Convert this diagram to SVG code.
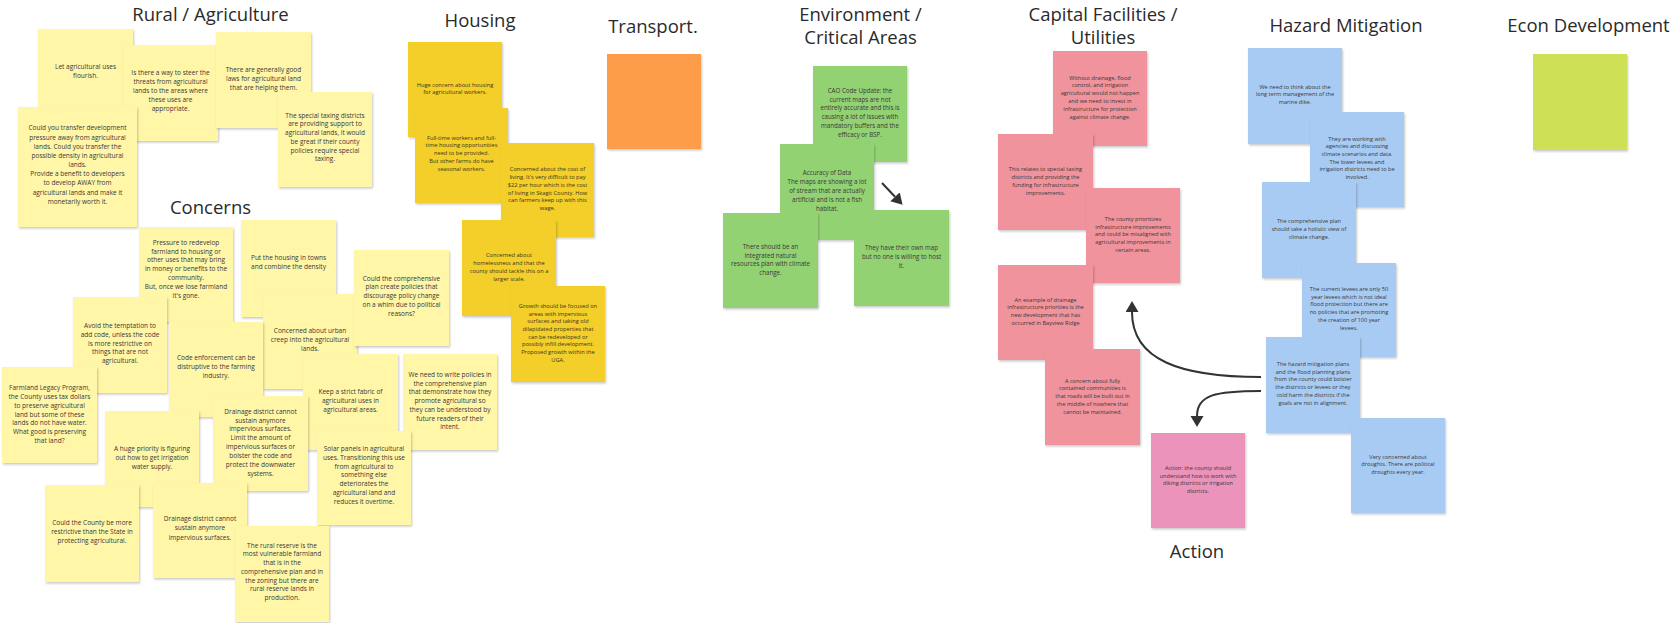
<svg xmlns="http://www.w3.org/2000/svg" width="1674" height="623" viewBox="0 0 1674 623">
<defs>
<filter id="sh" x="-10%" y="-10%" width="130%" height="130%"><feDropShadow dx="1" dy="1.5" stdDeviation="1" flood-color="#000" flood-opacity="0.22"/></filter>
<marker id="ah" markerUnits="userSpaceOnUse" markerWidth="12" markerHeight="14" refX="0" refY="6.5" orient="auto"><path d="M0,0 L11,6.5 L0,13 z" fill="#333"/></marker>
</defs>
<style>
.n{filter:url(#sh)}
.ly{fill:#fff6a8}.hy{fill:#f4cf2b}.or{fill:#fe9d48}.gr{fill:#93d273}.pk{fill:#f0939c}.ap{fill:#eb93ba}.bl{fill:#a8cbf3}.li{fill:#cde057}
text{font-family:"Open Sans","Liberation Sans",sans-serif;fill:#383838;text-anchor:middle}
.ti{font-size:18.5px;fill:#2a2a2a}
.a{font-size:6.5px}.h{font-size:5.7px;fill:#3a3420}.g{font-size:6.2px}.p{font-size:5.6px}
.cn{fill:none;stroke:#333;stroke-width:2;marker-end:url(#ah)}
</style>
<rect width="1674" height="623" fill="#fff"/>
<g id="titles">
<text class="ti" x="210.5" y="21">Rural / Agriculture</text>
<text class="ti" x="210.5" y="214">Concerns</text>
<text class="ti" x="480" y="27">Housing</text>
<text class="ti" x="653" y="33">Transport.</text>
<text class="ti" x="860.5" y="21">Environment /</text>
<text class="ti" x="860.5" y="44">Critical Areas</text>
<text class="ti" x="1103" y="21">Capital Facilities /</text>
<text class="ti" x="1103" y="44">Utilities</text>
<text class="ti" x="1346" y="32">Hazard Mitigation</text>
<text class="ti" x="1588.5" y="32">Econ Development</text>
<text class="ti" x="1197" y="558">Action</text>
</g>
<!-- Rural -->
<g id="r1"><rect class="n ly" x="38" y="29" width="95" height="95"/><text class="a"><tspan x="85.5" y="68.7">Let agricultural uses</tspan><tspan x="85.5" y="77.7">flourish.</tspan></text></g>
<g id="r2"><rect class="n ly" x="123" y="45" width="95" height="96"/><text class="a"><tspan x="170.5" y="75.3">Is there a way to steer the</tspan><tspan x="170.5" y="84.3">threats from agricultural</tspan><tspan x="170.5" y="93.3">lands to the areas where</tspan><tspan x="170.5" y="102.3">these uses are</tspan><tspan x="170.5" y="111.3">appropriate.</tspan></text></g>
<g id="r3"><rect class="n ly" x="216" y="32" width="95" height="96"/><text class="a"><tspan x="263.5" y="71.7">There are generally good</tspan><tspan x="263.5" y="80.7">laws for agricultural land</tspan><tspan x="263.5" y="89.7">that are helping them.</tspan></text></g>
<g id="r4"><rect class="n ly" x="278" y="92" width="94" height="95"/><text class="a"><tspan x="325" y="117.7">The special taxing districts</tspan><tspan x="325" y="126.4">are providing support to</tspan><tspan x="325" y="135.1">agricultural lands, it would</tspan><tspan x="325" y="143.8">be great if their county</tspan><tspan x="325" y="152.5">policies require special</tspan><tspan x="325" y="161.2">taxing.</tspan></text></g>
<g id="r5"><rect class="n ly" x="18" y="107" width="119" height="120"/><text class="a"><tspan x="77.5" y="130.3">Could you transfer development</tspan><tspan x="77.5" y="139.5">pressure away from agricultural</tspan><tspan x="77.5" y="148.7">lands. Could you transfer the</tspan><tspan x="77.5" y="157.8">possible density in agricultural</tspan><tspan x="77.5" y="167">lands.</tspan><tspan x="77.5" y="176.2">Provide a benefit to developers</tspan><tspan x="77.5" y="185.3">to develop AWAY from</tspan><tspan x="77.5" y="194.5">agricultural lands and make it</tspan><tspan x="77.5" y="203.7">monetarily worth it.</tspan></text></g>
<!-- Concerns -->
<g id="c1"><rect class="n ly" x="139" y="227" width="94" height="95"/><text class="a"><tspan x="186" y="244.7">Pressure to redevelop</tspan><tspan x="186" y="253.5">farmland to housing or</tspan><tspan x="186" y="262.4">other uses that may bring</tspan><tspan x="186" y="271.2">in money or benefits to the</tspan><tspan x="186" y="280">community.</tspan><tspan x="186" y="288.9">But, once we lose farmland</tspan><tspan x="186" y="297.7">it's gone.</tspan></text></g>
<g id="c2"><rect class="n ly" x="241" y="220" width="95" height="97"/><text class="a"><tspan x="288.5" y="259.7">Put the housing in towns</tspan><tspan x="288.5" y="268.7">and combine the density</tspan></text></g>
<g id="c4"><rect class="n ly" x="73" y="297" width="94" height="96"/><text class="a"><tspan x="120" y="327.7">Avoid the temptation to</tspan><tspan x="120" y="336.6">add code, unless the code</tspan><tspan x="120" y="345.5">is more restrictive on</tspan><tspan x="120" y="354.4">things that are not</tspan><tspan x="120" y="363.3">agricultural.</tspan></text></g>
<g id="c5"><rect class="n ly" x="263" y="294" width="94" height="95"/><text class="a"><tspan x="310" y="332.7">Concerned about urban</tspan><tspan x="310" y="341.7">creep into the agricultural</tspan><tspan x="310" y="350.7">lands.</tspan></text></g>
<g id="c3"><rect class="n ly" x="354" y="250" width="95" height="96"/><text class="a"><tspan x="401.5" y="280.7">Could the comprehensive</tspan><tspan x="401.5" y="289.4">plan create policies that</tspan><tspan x="401.5" y="298.2">discourage policy change</tspan><tspan x="401.5" y="306.9">on a whim due to political</tspan><tspan x="401.5" y="315.7">reasons?</tspan></text></g>
<g id="c6"><rect class="n ly" x="169" y="322" width="94" height="95"/><text class="a"><tspan x="216" y="360.3">Code enforcement can be</tspan><tspan x="216" y="369.3">distruptive to the farming</tspan><tspan x="216" y="378.3">industry.</tspan></text></g>
<g id="c7"><rect class="n ly" x="2" y="367" width="95" height="96"/><text class="a"><tspan x="49.5" y="390.3">Farmland Legacy Program,</tspan><tspan x="49.5" y="399">the County uses tax dollars</tspan><tspan x="49.5" y="407.8">to preserve agricultural</tspan><tspan x="49.5" y="416.5">land but some of these</tspan><tspan x="49.5" y="425.2">lands do not have water.</tspan><tspan x="49.5" y="434">What good is preserving</tspan><tspan x="49.5" y="442.7">that land?</tspan></text></g>
<g id="c8"><rect class="n ly" x="303" y="354" width="95" height="96"/><text class="a"><tspan x="350.5" y="394">Keep a strict fabric of</tspan><tspan x="350.5" y="402.9">agricultural uses in</tspan><tspan x="350.5" y="411.8">agricultural areas.</tspan></text></g>
<g id="c9"><rect class="n ly" x="403" y="354" width="94" height="96"/><text class="a"><tspan x="450" y="377">We need to write policies in</tspan><tspan x="450" y="385.7">the comprehensive plan</tspan><tspan x="450" y="394.4">that demonstrate how they</tspan><tspan x="450" y="403.1">promote agricultural so</tspan><tspan x="450" y="411.8">they can be understood by</tspan><tspan x="450" y="420.5">future readers of their</tspan><tspan x="450" y="429.2">intent.</tspan></text></g>
<g id="c11"><rect class="n ly" x="105" y="411" width="94" height="96"/><text class="a"><tspan x="152" y="451">A huge priority is figuring</tspan><tspan x="152" y="459.9">out how to get irrigation</tspan><tspan x="152" y="468.8">water supply.</tspan></text></g>
<g id="c10"><rect class="n ly" x="213" y="396" width="95" height="95"/><text class="a"><tspan x="260.5" y="413.7">Drainage district cannot</tspan><tspan x="260.5" y="422.6">sustain anymore</tspan><tspan x="260.5" y="431.4">impervious surfaces.</tspan><tspan x="260.5" y="440.3">Limit the amount of</tspan><tspan x="260.5" y="449.1">impervious surfaces or</tspan><tspan x="260.5" y="458">bolster the code and</tspan><tspan x="260.5" y="466.9">protect the downwater</tspan><tspan x="260.5" y="475.7">systems.</tspan></text></g>
<g id="c12"><rect class="n ly" x="317" y="431" width="94" height="94"/><text class="a"><tspan x="364" y="451">Solar panels in agricultural</tspan><tspan x="364" y="459.8">uses. Transitioning this use</tspan><tspan x="364" y="468.6">from agricultural to</tspan><tspan x="364" y="477.3">something else</tspan><tspan x="364" y="486.1">deteriorates the</tspan><tspan x="364" y="494.9">agricultural land and</tspan><tspan x="364" y="503.7">reduces it overtime.</tspan></text></g>
<g id="c13"><rect class="n ly" x="45" y="485" width="94" height="97"/><text class="a"><tspan x="92" y="524.7">Could the County be more</tspan><tspan x="92" y="533.7">restrictive than the State in</tspan><tspan x="92" y="542.7">protecting agricultural.</tspan></text></g>
<g id="c14"><rect class="n ly" x="153" y="483" width="94" height="95"/><text class="a"><tspan x="200" y="521.3">Drainage district cannot</tspan><tspan x="200" y="530.4">sustain anymore</tspan><tspan x="200" y="539.5">impervious surfaces.</tspan></text></g>
<g id="c15"><rect class="n ly" x="235" y="526" width="94" height="96"/><text class="a"><tspan x="282" y="547.7">The rural reserve is the</tspan><tspan x="282" y="556.4">most vulnerable farmland</tspan><tspan x="282" y="565.1">that is in the</tspan><tspan x="282" y="573.9">comprehensive plan and in</tspan><tspan x="282" y="582.6">the zoning but there are</tspan><tspan x="282" y="591.3">rural reserve lands in</tspan><tspan x="282" y="600">production.</tspan></text></g>
<!-- Housing -->
<g id="h1"><rect class="n hy" x="408" y="42" width="94" height="95"/><text class="h"><tspan x="455" y="86.8">Huge concern about housing</tspan><tspan x="455" y="94.3">for agricultural workers.</tspan></text></g>
<g id="h2"><rect class="n hy" x="415" y="108" width="93" height="95"/><text class="h"><tspan x="461.5" y="139.5">Full-time workers and full-</tspan><tspan x="461.5" y="147.3">time housing opportunities</tspan><tspan x="461.5" y="155.2">need to be provided.</tspan><tspan x="461.5" y="163">But other farms do have</tspan><tspan x="461.5" y="170.8">seasonal workers.</tspan></text></g>
<g id="h3"><rect class="n hy" x="501" y="143" width="93" height="94"/><text class="h"><tspan x="547.5" y="171.1">Concerned about the cost of</tspan><tspan x="547.5" y="178.9">living. It's very difficult to pay</tspan><tspan x="547.5" y="186.7">$22 per hour which is the cost</tspan><tspan x="547.5" y="194.5">of living in Skagit County. How</tspan><tspan x="547.5" y="202.3">can farmers keep up with this</tspan><tspan x="547.5" y="210.1">wage.</tspan></text></g>
<g id="h4"><rect class="n hy" x="462" y="220" width="94" height="96"/><text class="h"><tspan x="509" y="256.8">Concerned about</tspan><tspan x="509" y="264.8">homelessness and that the</tspan><tspan x="509" y="272.8">county should tackle this on a</tspan><tspan x="509" y="280.8">larger scale.</tspan></text></g>
<g id="h5"><rect class="n hy" x="511" y="286" width="94" height="96"/><text class="h"><tspan x="558" y="307.8">Growth should be focused on</tspan><tspan x="558" y="315.5">areas with impervious</tspan><tspan x="558" y="323.2">surfaces and taking old</tspan><tspan x="558" y="330.9">dilapidated properties that</tspan><tspan x="558" y="338.6">can be redeveloped or</tspan><tspan x="558" y="346.4">possibly infill development.</tspan><tspan x="558" y="354.1">Proposed growth within the</tspan><tspan x="558" y="361.8">UGA.</tspan></text></g>
<!-- Transport -->
<g id="t1"><rect class="n or" x="607" y="54" width="94" height="95"/></g>
<!-- Environment -->
<g id="e1"><rect class="n gr" x="813" y="66" width="94" height="96"/><text class="g"><tspan x="860" y="92.7">CAO Code Update: the</tspan><tspan x="860" y="101.6">current maps are not</tspan><tspan x="860" y="110.4">entirely accurate and this is</tspan><tspan x="860" y="119.3">causing a lot of issues with</tspan><tspan x="860" y="128.2">mandatory buffers and the</tspan><tspan x="860" y="137">efficacy or BSP.</tspan></text></g>
<g id="e2"><rect class="n gr" x="780" y="144" width="94" height="96"/><text class="g"><tspan x="827" y="174.7">Accuracy of Data</tspan><tspan x="827" y="183.8">The maps are showing a lot</tspan><tspan x="827" y="192.8">of stream that are actually</tspan><tspan x="827" y="201.9">artificial and is not a fish</tspan><tspan x="827" y="211">habitat.</tspan></text></g>
<g id="e3"><rect class="n gr" x="723" y="213" width="95" height="95"/><text class="g"><tspan x="770.5" y="248.7">There should be an</tspan><tspan x="770.5" y="257.6">integrated natural</tspan><tspan x="770.5" y="266.4">resources plan with climate</tspan><tspan x="770.5" y="275.3">change.</tspan></text></g>
<g id="e4"><rect class="n gr" x="854" y="210" width="95" height="96"/><text class="g"><tspan x="901.5" y="250">They have their own map</tspan><tspan x="901.5" y="259">but no one is willing to host</tspan><tspan x="901.5" y="268">it.</tspan></text></g>
<!-- Capital -->
<g id="p1"><rect class="n pk" x="1053" y="51" width="94" height="95"/><text class="p"><tspan x="1100" y="79.5">Without drainage, flood</tspan><tspan x="1100" y="87.3">control, and irrigation</tspan><tspan x="1100" y="95.1">agricultural would not happen</tspan><tspan x="1100" y="102.9">and we need to invest in</tspan><tspan x="1100" y="110.7">infrastructure for protection</tspan><tspan x="1100" y="118.5">against climate change.</tspan></text></g>
<g id="p2"><rect class="n pk" x="998" y="134" width="95" height="96"/><text class="p"><tspan x="1045.5" y="170.8">This relates to special taxing</tspan><tspan x="1045.5" y="178.7">districts and providing the</tspan><tspan x="1045.5" y="186.6">funding for infrastructure</tspan><tspan x="1045.5" y="194.5">improvements.</tspan></text></g>
<g id="p3"><rect class="n pk" x="1086" y="188" width="94" height="95"/><text class="p"><tspan x="1133" y="220.8">The county prioritizes</tspan><tspan x="1133" y="228.6">infrastructure improvements</tspan><tspan x="1133" y="236.3">and could be misaligned with</tspan><tspan x="1133" y="244.1">agricultural improvements in</tspan><tspan x="1133" y="251.8">certain areas.</tspan></text></g>
<g id="p4"><rect class="n pk" x="998" y="265" width="95" height="95"/><text class="p"><tspan x="1045.5" y="301.8">An example of drainage</tspan><tspan x="1045.5" y="309.4">infrastructure priorities is the</tspan><tspan x="1045.5" y="317">new development that has</tspan><tspan x="1045.5" y="324.6">occurred in Bayview Ridge</tspan></text></g>
<g id="p5"><rect class="n pk" x="1045" y="349" width="95" height="96"/><text class="p"><tspan x="1092.5" y="382.5">A concern about fully</tspan><tspan x="1092.5" y="390.4">contained communities is</tspan><tspan x="1092.5" y="398.3">that roads will be built out in</tspan><tspan x="1092.5" y="406.2">the middle of nowhere that</tspan><tspan x="1092.5" y="414.1">cannot be maintained.</tspan></text></g>
<!-- Action -->
<g id="a1"><rect class="n ap" x="1151" y="433" width="94" height="95"/><text class="p"><tspan x="1198" y="470.1">Action: the county should</tspan><tspan x="1198" y="477.6">understand how to work with</tspan><tspan x="1198" y="485">diking districts or irrigation</tspan><tspan x="1198" y="492.5">districts.</tspan></text></g>
<!-- Hazard -->
<g id="b1"><rect class="n bl" x="1248" y="48" width="94" height="96"/><text class="p"><tspan x="1295" y="88.5">We need to think about the</tspan><tspan x="1295" y="96.2">long term management of the</tspan><tspan x="1295" y="103.8">marine dike.</tspan></text></g>
<g id="b2"><rect class="n bl" x="1310" y="112" width="94" height="95"/><text class="p"><tspan x="1357" y="140.8">They are working with</tspan><tspan x="1357" y="148.4">agencies and discussing</tspan><tspan x="1357" y="156">climate scenarios and data.</tspan><tspan x="1357" y="163.6">The lower levees and</tspan><tspan x="1357" y="171.2">irrigation districts need to be</tspan><tspan x="1357" y="178.8">involved.</tspan></text></g>
<g id="b3"><rect class="n bl" x="1262" y="182" width="94" height="96"/><text class="p"><tspan x="1309" y="222.8">The comprehensive plan</tspan><tspan x="1309" y="230.8">should take a holistic view of</tspan><tspan x="1309" y="238.8">climate change.</tspan></text></g>
<g id="b4"><rect class="n bl" x="1302" y="263" width="94" height="94"/><text class="p"><tspan x="1349" y="290.8">The current levees are only 50</tspan><tspan x="1349" y="298.6">year levees which is not ideal</tspan><tspan x="1349" y="306.3">flood protection but there are</tspan><tspan x="1349" y="314.1">no policies that are promoting</tspan><tspan x="1349" y="321.8">the creation of 100 year</tspan><tspan x="1349" y="329.6">levees.</tspan></text></g>
<g id="b5"><rect class="n bl" x="1266" y="337" width="94" height="96"/><text class="p"><tspan x="1313" y="365.8">The hazard mitigation plans</tspan><tspan x="1313" y="373.6">and the flood planning plans</tspan><tspan x="1313" y="381.4">from the county could bolster</tspan><tspan x="1313" y="389.2">the districts or levees or they</tspan><tspan x="1313" y="397">cold harm the districts if the</tspan><tspan x="1313" y="404.8">goals are not in alignment.</tspan></text></g>
<g id="b6"><rect class="n bl" x="1351" y="418" width="94" height="95"/><text class="p"><tspan x="1398" y="458.5">Very concerned about</tspan><tspan x="1398" y="466.2">droughts. There are political</tspan><tspan x="1398" y="473.8">droughts every year.</tspan></text></g>
<!-- Econ -->
<g id="x1"><rect class="n li" x="1533" y="54" width="94" height="96"/></g>
<!-- Connectors -->
<g id="connectors">
<path class="cn" d="M882,183 L895,196.8"/>
<path class="cn" d="M1261,377 C1180,377 1132,360 1132,312"/>
<path class="cn" d="M1261,391 C1215,391 1197,395 1197,416"/>
</g>
</svg>
